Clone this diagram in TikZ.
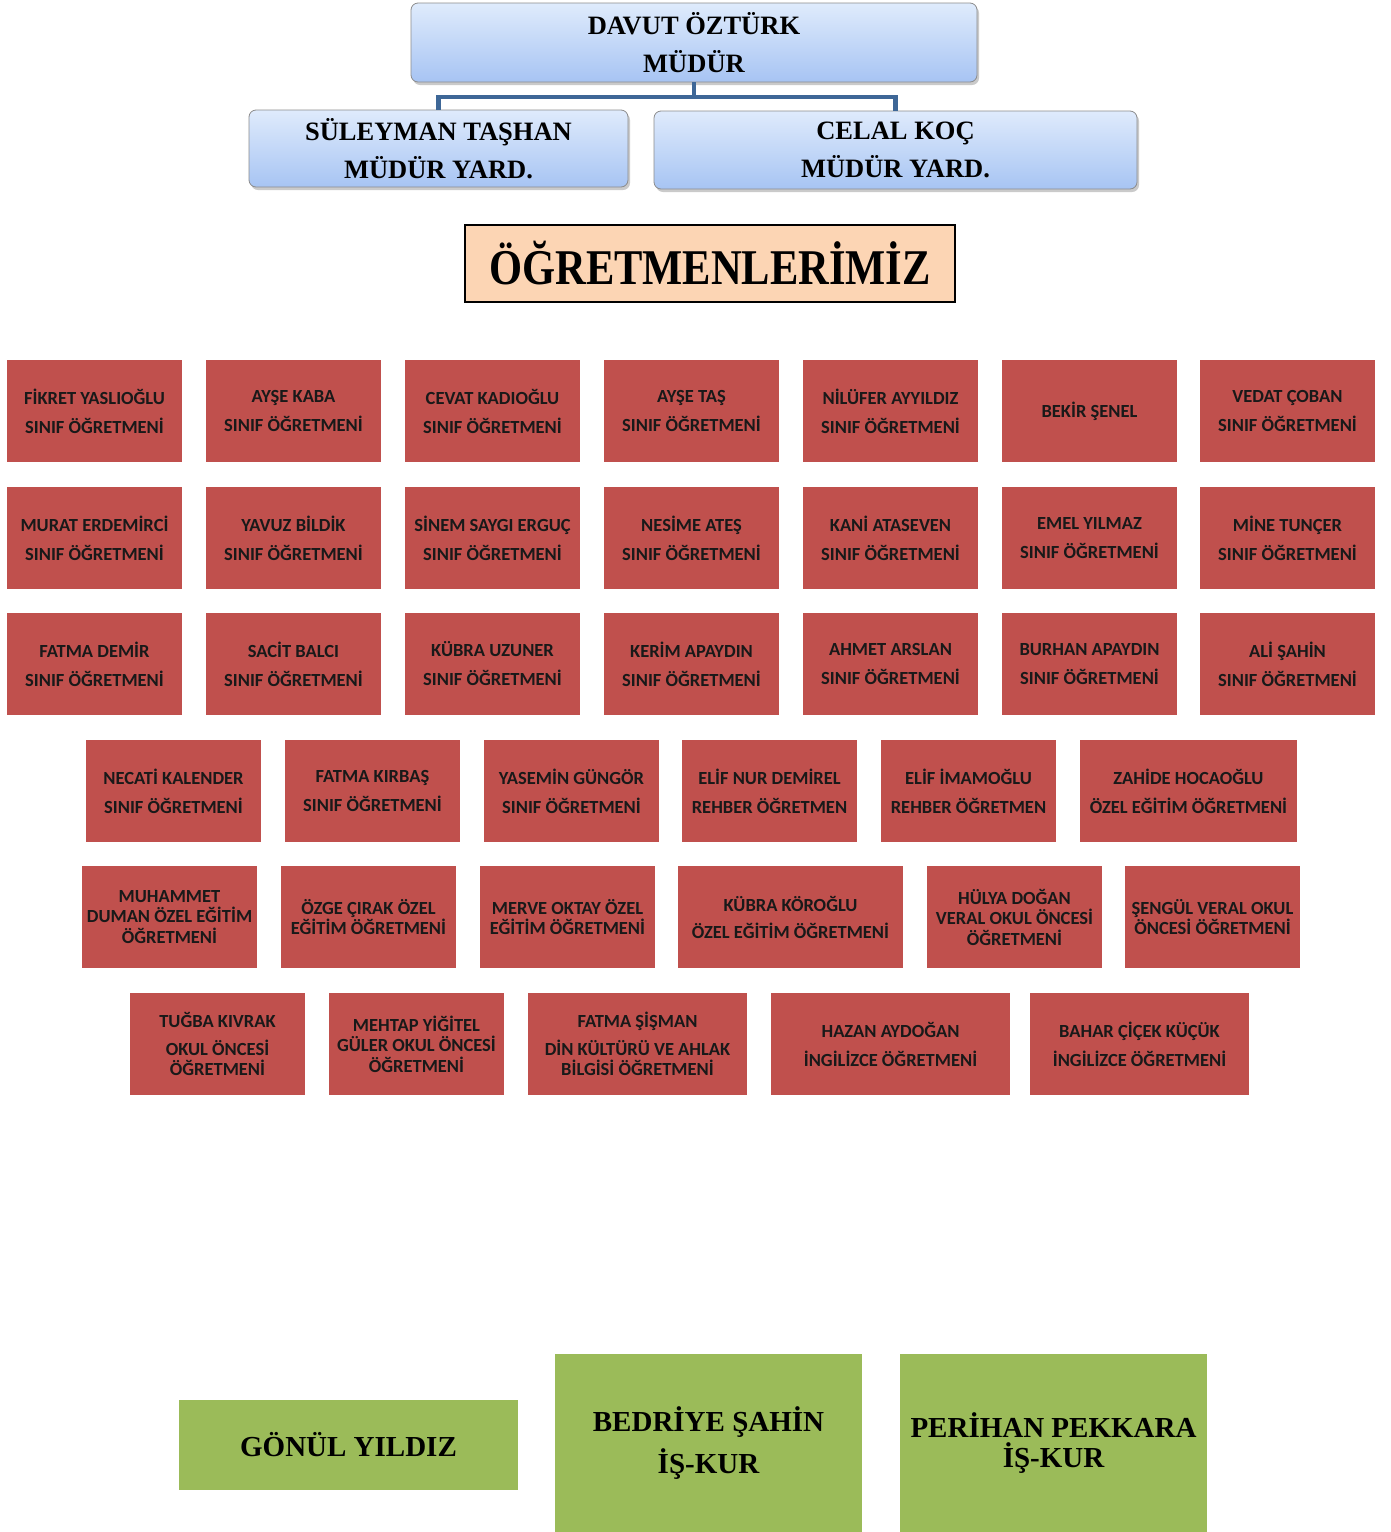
\documentclass[tikz,border=0pt]{standalone}
\usepackage{fontspec}
\usepackage{graphicx}
\setmainfont{Liberation Serif}
\newfontfamily\carl{Carlito}
\usetikzlibrary{shadows}
\definecolor{redfill}{HTML}{C0504D}
\definecolor{greenfill}{HTML}{9BBB59}
\definecolor{peach}{HTML}{FCD5B4}
\definecolor{conncol}{HTML}{3E6797}
\definecolor{bluetop}{HTML}{DFEBFC}
\definecolor{bluebot}{HTML}{A7C4F3}
\tikzset{
  bluebox/.style={rounded corners=7pt, draw=black!45, line width=0.8pt,
    top color=bluetop, bottom color=bluebot, inner sep=0pt, align=center,
    font=\bfseries\fontsize{26.5}{38}\selectfont,
    drop shadow={shadow xshift=2pt, shadow yshift=-3pt, opacity=0.35, fill=black!60}},
  rbox/.style={fill=redfill, inner sep=0pt, minimum height=102pt, minimum width=175pt,
    align=center, text=black!90, font=\carl\bfseries\fontsize{18.5}{29}\selectfont},
  cbox/.style={rbox, font=\carl\bfseries\fontsize{18.5}{20.5}\selectfont},
  gbox/.style={fill=greenfill, inner sep=0pt, align=center,
    font=\bfseries\fontsize{29}{42}\selectfont},
  conn/.style={draw=conncol, line width=4.5pt}
}
\begin{document}
\begin{tikzpicture}[x=1pt,y=-1pt]
\useasboundingbox (0,0) rectangle (1391,1532);
% top management
\node[bluebox, minimum width=566pt, minimum height=79pt] (dir) at (694,42.5) {DAVUT ÖZTÜRK\\MÜDÜR};
\node[bluebox, minimum width=379pt, minimum height=77pt] (sul) at (438.5,148.5) {SÜLEYMAN TAŞHAN\\MÜDÜR YARD.};
\node[bluebox, minimum width=483pt, minimum height=78pt] (cel) at (895.5,150) {CELAL KOÇ\\MÜDÜR YARD.};
\coordinate (hub) at (694,97);
\draw[conn] (dir.south) -- (hub);
\draw[conn] (hub) -| (sul.north);
\draw[conn] (hub) -| (cel.north);
% title
\node[fill=peach, draw=black, line width=1.6pt, minimum width=490pt, minimum height=77pt, inner sep=0pt]
  (title) at (710,263.5) {\scalebox{0.85}[1]{\bfseries\fontsize{50}{50}\selectfont ÖĞRETMENLERİMİZ}};
% row 1
\node[rbox] (a1) at (94.5,411) {FİKRET YASLIOĞLU\\SINIF ÖĞRETMENİ};
\node[rbox] (a2) at (293.5,411) {AYŞE KABA\\SINIF ÖĞRETMENİ};
\node[rbox] (a3) at (492.5,411) {CEVAT KADIOĞLU\\SINIF ÖĞRETMENİ};
\node[rbox] (a4) at (691.5,411) {AYŞE TAŞ\\SINIF ÖĞRETMENİ};
\node[rbox] (a5) at (890.5,411) {NİLÜFER AYYILDIZ\\SINIF ÖĞRETMENİ};
\node[rbox] (a6) at (1089.5,411) {BEKİR ŞENEL};
\node[rbox] (a7) at (1287.5,411) {VEDAT ÇOBAN\\SINIF ÖĞRETMENİ};
% row 2
\node[rbox] (b1) at (94.5,538) {MURAT ERDEMİRCİ\\SINIF ÖĞRETMENİ};
\node[rbox] (b2) at (293.5,538) {YAVUZ BİLDİK\\SINIF ÖĞRETMENİ};
\node[rbox] (b3) at (492.5,538) {SİNEM SAYGI ERGUÇ\\SINIF ÖĞRETMENİ};
\node[rbox] (b4) at (691.5,538) {NESİME ATEŞ\\SINIF ÖĞRETMENİ};
\node[rbox] (b5) at (890.5,538) {KANİ ATASEVEN\\SINIF ÖĞRETMENİ};
\node[rbox] (b6) at (1089.5,538) {EMEL YILMAZ\\SINIF ÖĞRETMENİ};
\node[rbox] (b7) at (1287.5,538) {MİNE TUNÇER\\SINIF ÖĞRETMENİ};
% row 3
\node[rbox] (c1) at (94.5,664) {FATMA DEMİR\\SINIF ÖĞRETMENİ};
\node[rbox] (c2) at (293.5,664) {SACİT BALCI\\SINIF ÖĞRETMENİ};
\node[rbox] (c3) at (492.5,664) {KÜBRA UZUNER\\SINIF ÖĞRETMENİ};
\node[rbox] (c4) at (691.5,664) {KERİM APAYDIN\\SINIF ÖĞRETMENİ};
\node[rbox] (c5) at (890.5,664) {AHMET ARSLAN\\SINIF ÖĞRETMENİ};
\node[rbox] (c6) at (1089.5,664) {BURHAN APAYDIN\\SINIF ÖĞRETMENİ};
\node[rbox] (c7) at (1287.5,664) {ALİ ŞAHİN\\SINIF ÖĞRETMENİ};
% row 4
\node[rbox] (d1) at (173.5,791) {NECATİ KALENDER\\SINIF ÖĞRETMENİ};
\node[rbox] (d2) at (372.5,791) {FATMA KIRBAŞ\\SINIF ÖĞRETMENİ};
\node[rbox] (d3) at (571.5,791) {YASEMİN GÜNGÖR\\SINIF ÖĞRETMENİ};
\node[rbox] (d4) at (769.5,791) {ELİF NUR DEMİREL\\REHBER ÖĞRETMEN};
\node[rbox] (d5) at (968.5,791) {ELİF İMAMOĞLU\\REHBER ÖĞRETMEN};
\node[rbox, minimum width=217pt] (d6) at (1188.5,791) {ZAHİDE HOCAOĞLU\\ÖZEL EĞİTİM ÖĞRETMENİ};
% row 5
\node[cbox] (e1) at (169.5,917) {MUHAMMET\\DUMAN ÖZEL EĞİTİM\\ÖĞRETMENİ};
\node[cbox] (e2) at (368.5,917) {ÖZGE ÇIRAK ÖZEL\\EĞİTİM ÖĞRETMENİ};
\node[cbox] (e3) at (567.5,917) {MERVE OKTAY ÖZEL\\EĞİTİM ÖĞRETMENİ};
\node[rbox, minimum width=225pt, font=\carl\bfseries\fontsize{18.5}{27}\selectfont] (e4) at (790.5,917) {KÜBRA KÖROĞLU\\ÖZEL EĞİTİM ÖĞRETMENİ};
\node[cbox] (e5) at (1014.5,917) {HÜLYA DOĞAN\\VERAL OKUL ÖNCESİ\\ÖĞRETMENİ};
\node[cbox] (e6) at (1212.5,917) {ŞENGÜL VERAL OKUL\\ÖNCESİ ÖĞRETMENİ};
% row 6
\node[cbox] (f1) at (217.5,1044) {TUĞBA KIVRAK\\[7.5pt]OKUL ÖNCESİ\\ÖĞRETMENİ};
\node[cbox] (f2) at (416.5,1044) {MEHTAP YİĞİTEL\\GÜLER OKUL ÖNCESİ\\ÖĞRETMENİ};
\node[cbox, minimum width=219pt] (f3) at (637.5,1044) {FATMA ŞİŞMAN\\[7.5pt]DİN KÜLTÜRÜ VE AHLAK\\BİLGİSİ ÖĞRETMENİ};
\node[rbox, minimum width=239pt] (f4) at (890.5,1044) {HAZAN AYDOĞAN\\İNGİLİZCE ÖĞRETMENİ};
\node[rbox, minimum width=219pt] (f5) at (1139.5,1044) {BAHAR ÇİÇEK KÜÇÜK\\İNGİLİZCE ÖĞRETMENİ};
% bottom staff
\node[gbox, minimum width=339pt, minimum height=90pt] (g1) at (348.5,1445) {GÖNÜL YILDIZ};
\node[gbox, minimum width=307pt, minimum height=178pt] (g2) at (708.5,1443) {BEDRİYE ŞAHİN\\İŞ-KUR};
\node[gbox, minimum width=307pt, minimum height=178pt, font=\bfseries\fontsize{29}{30}\selectfont] (g3) at (1053.5,1443) {PERİHAN PEKKARA\\İŞ-KUR};
\end{tikzpicture}
\end{document}
